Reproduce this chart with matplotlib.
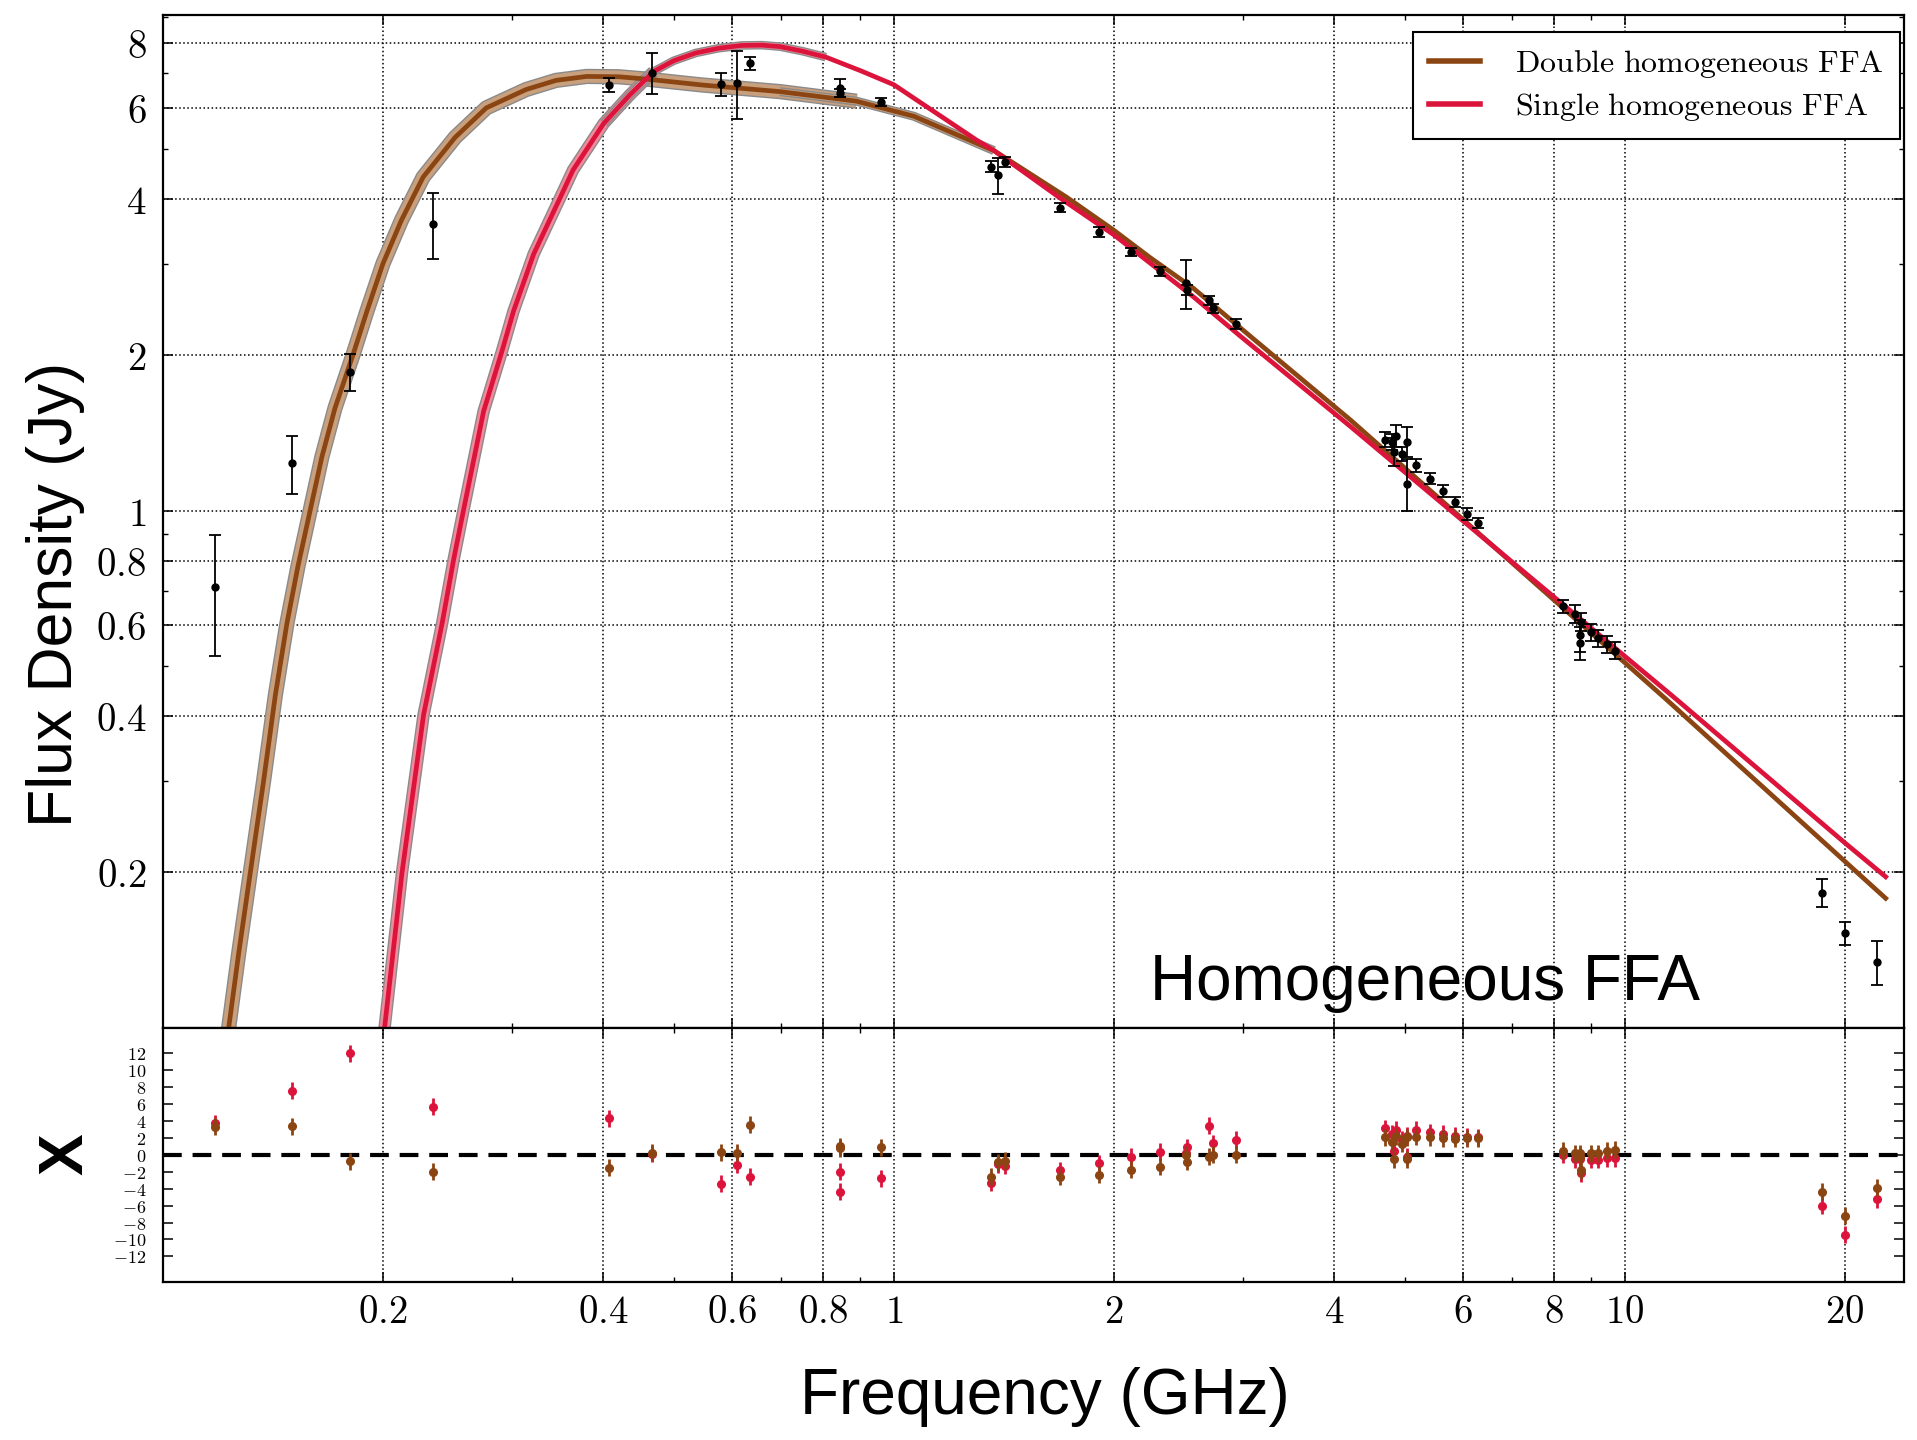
import numpy as np
import matplotlib
matplotlib.use('Agg')
import matplotlib.pyplot as plt
import matplotlib.patheffects as pe
from matplotlib.ticker import FixedLocator, FixedFormatter, NullFormatter

plt.rcParams['mathtext.fontset'] = 'cm'

#------------ model curves (GHz, Jy) ------------
dbl_freq = [0.1230, 0.1270, 0.1317, 0.1373, 0.1425, 0.1478, 0.1530, 0.1590, 0.1650,
            0.1720, 0.1820, 0.1900, 0.2000, 0.2120, 0.2270, 0.2510, 0.2770, 0.3140,
            0.3450, 0.3800, 0.4200, 0.4580, 0.5480, 0.6980, 0.8890, 1.0650, 1.3710,
            1.7240, 2.0000, 2.2430, 2.5680, 3.1000, 4.2100, 6.4000, 11.400, 20.000,
            22.750]
dbl_flux = [0.100, 0.140, 0.200, 0.300, 0.440, 0.606, 0.780, 1.000, 1.270,
            1.580, 2.000, 2.420, 3.000, 3.640, 4.410, 5.260, 6.000, 6.510,
            6.780, 6.900, 6.890, 6.820, 6.640, 6.450, 6.180, 5.780, 4.960,
            4.030, 3.480, 3.080, 2.690, 2.150, 1.498, 0.888, 0.4315, 0.2100,
            0.1781]

sgl_freq = [0.2010, 0.2124, 0.2273, 0.2410, 0.2500, 0.2577, 0.2746, 0.2909, 0.3018,
            0.3215, 0.3497, 0.3640, 0.4010, 0.4350, 0.4690, 0.5000, 0.5360, 0.5750,
            0.6190, 0.6600, 0.6980, 0.7500, 0.8070, 0.9000, 1.0000, 1.2970, 1.3710,
            1.6870, 2.0000, 2.5680, 2.9700, 4.2100, 6.4000, 11.770, 20.000, 22.750]
sgl_flux = [0.100, 0.200, 0.403, 0.606, 0.807, 1.000, 1.555, 2.030, 2.430,
            3.130, 4.030, 4.550, 5.600, 6.350, 7.050, 7.400, 7.660, 7.820,
            7.920, 7.930, 7.880, 7.720, 7.520, 7.080, 6.650, 5.200, 4.960,
            4.020, 3.410, 2.590, 2.180, 1.455, 0.886, 0.4315, 0.228, 0.196]

#------------ measurements ------------
obs_freq = [0.118, 0.150, 0.180, 0.2345, 0.408, 0.4675, 0.581, 0.611, 0.635,
            0.844, 0.844, 0.961, 1.360, 1.389, 1.418, 1.690, 1.910, 2.110, 2.310,
            2.510, 2.520, 2.700, 2.730, 2.940,
            4.70, 4.81, 4.83, 4.87, 4.95, 5.04, 5.03, 5.18, 5.41, 5.64, 5.85, 6.08, 6.30,
            8.23, 8.55, 8.68, 8.68, 8.72, 9.00, 9.20, 9.45, 9.70,
            18.62, 20.04, 22.14]
obs_flux = [0.710, 1.234, 1.854, 3.580, 6.640, 7.020, 6.670, 6.710, 7.310,
            6.560, 6.410, 6.160, 4.620, 4.450, 4.720, 3.850, 3.450, 3.160, 2.900,
            2.750, 2.670, 2.550, 2.460, 2.290,
            1.371, 1.357, 1.300, 1.396, 1.288, 1.357, 1.127, 1.223, 1.153, 1.090, 1.039, 0.985, 0.947,
            0.653, 0.632, 0.574, 0.555, 0.610, 0.582, 0.566, 0.551, 0.536,
            0.1827, 0.1526, 0.1340]
obs_err = [0.187, 0.160, 0.150, 0.520, 0.200, 0.650, 0.340, 1.000, 0.200,
           0.250, 0.120, 0.120, 0.120, 0.360, 0.100, 0.080, 0.080, 0.060, 0.060,
           0.300, 0.060, 0.050, 0.050, 0.050,
           0.045, 0.050, 0.080, 0.070, 0.040, 0.090, 0.130, 0.035, 0.030, 0.030, 0.025, 0.025, 0.022,
           0.020, 0.025, 0.040, 0.040, 0.025, 0.022, 0.022, 0.020, 0.020,
           0.011, 0.008, 0.013]

# normalised residuals
res_dbl = [3.35, 3.39, -0.75, -2.0, -1.5, 0.24, 0.31, 0.24, 3.58,
           1.02, 0.8, 0.9, -2.56, -0.9, -0.7, -2.6, -2.36, -1.77, -1.38,
           0.0, -0.79, -0.2, 0.0, 0.0,
           2.1, 1.5, -0.5, 2.2, 1.3, 2.1, -0.5, 2.17, 2.09, 1.97, 1.89, 1.97, 1.97,
           0.5, 0.2, 0.2, -0.2, -1.8, 0.2, 0.2, 0.5, 0.6,
           -4.33, -7.17, -3.86]
res_sgl = [3.74, 7.6, 12.0, 5.67, 4.33, 0.1, -3.39, -1.18, -2.6,
           -2.0, -4.37, -2.76, -3.27, -1.1, -1.26, -1.81, -0.98, -0.2, 0.35,
           0.2, 0.9, 3.43, 1.38, 1.77,
           3.15, 2.5, 0.4, 3.0, 1.8, 2.24, -0.2, 2.95, 2.68, 2.48, 2.28, 2.17, 2.09,
           0.0, -0.5, -0.2, -0.5, -2.2, -0.6, -0.6, -0.4, -0.4,
           -6.0, -9.45, -5.24]

xticks = [0.2, 0.4, 0.6, 0.8, 1, 2, 4, 6, 8, 10, 20]
xticklabels = ['0.2', '0.4', '0.6', '0.8', '1', '2', '4', '6', '8', '10', '20']
xminor = [0.3, 0.5, 0.7, 0.9, 3, 5, 7, 9]
yticks = [0.2, 0.4, 0.6, 0.8, 1, 2, 4, 6, 8]
yticklabels = ['0.2', '0.4', '0.6', '0.8', '1', '2', '4', '6', '8']
yminor = [0.3, 0.5, 0.7, 0.9, 3, 5, 7, 9]
rticks = list(range(-12, 13, 2))

BROWN = '#8B4513'
BROWN_BAND = '#C9A07E'
RED = '#DC143C'
RED_BAND = '#F28A9C'
EDGE = '#8a8a8a'

dbl_freq = np.array(dbl_freq); dbl_flux = np.array(dbl_flux)
sgl_freq = np.array(sgl_freq); sgl_flux = np.array(sgl_flux)

fig = plt.figure(figsize=(19.17, 14.4), dpi=100)
ax = fig.add_axes([0.085, 0.2861, 0.9082, 0.7035])
axr = fig.add_axes([0.085, 0.1099, 0.9082, 0.1762])

#------------ uncertainty bands (drawn as outlined strokes) ------------
def band(x, y, lw, fc, z=2):
    ax.plot(x, y, color=fc, lw=lw, solid_capstyle='butt', solid_joinstyle='round', zorder=z,
            path_effects=[pe.Stroke(linewidth=lw + 2.0, foreground=EDGE), pe.Normal()])

m = dbl_freq <= 0.889
band(dbl_freq[m], dbl_flux[m], 9.0, BROWN_BAND)
m = (dbl_freq >= 0.698) & (dbl_freq <= 1.371)
band(dbl_freq[m], dbl_flux[m], 4.5, BROWN_BAND)
m = sgl_freq <= 0.469
band(sgl_freq[m], sgl_flux[m], 7.0, RED_BAND, z=2.5)
m = (sgl_freq >= 0.401) & (sgl_freq <= 0.807)
band(sgl_freq[m], sgl_flux[m], 4.2, RED_BAND, z=2.5)

ax.plot(dbl_freq, dbl_flux, color=BROWN, lw=3.4, zorder=3, solid_joinstyle='round',
        label=r'$\mathrm{Double\ homogeneous\ FFA}$')
ax.plot(sgl_freq, sgl_flux, color=RED, lw=3.4, zorder=4, solid_joinstyle='round',
        label=r'$\mathrm{Single\ homogeneous\ FFA}$')

ax.errorbar(obs_freq, obs_flux, yerr=obs_err, fmt='o', color='k', ms=5,
            elinewidth=1.3, capsize=4.5, capthick=1.3, zorder=5)

ax.set_xscale('log')
ax.set_yscale('log')
ax.set_xlim(0.1, 24.1)
ax.set_ylim(0.1, 9.07)

leg = ax.legend(loc='upper right', bbox_to_anchor=(0.9975, 0.983), borderaxespad=0,
                fontsize=23, handlelength=1.6, handletextpad=1.1, borderpad=0.5,
                labelspacing=0.33, fancybox=False, edgecolor='k', framealpha=1)
leg.get_frame().set_linewidth(1.5)
for h in leg.get_lines():
    h.set_linewidth(4)

ax.text(0.567, 0.028, 'Homogeneous FFA', transform=ax.transAxes, fontsize=46,
        family='Liberation Sans', va='baseline', ha='left')

#------------ residuals ------------
axr.errorbar(obs_freq, res_sgl, yerr=1, fmt='o', color=RED, ms=5.5,
             elinewidth=2, capsize=0, zorder=3)
axr.errorbar(obs_freq, res_dbl, yerr=1, fmt='o', color=BROWN, ms=5.5,
             elinewidth=2, capsize=0, zorder=4)
axr.axhline(0, color='k', lw=3, dashes=(4.5, 2.6), zorder=2)
axr.set_xscale('log')
axr.set_xlim(0.1, 24.1)
axr.set_ylim(-15, 15)

#------------ ticks, grids, spines ------------
for a in (ax, axr):
    a.xaxis.set_major_locator(FixedLocator(xticks))
    a.xaxis.set_minor_locator(FixedLocator(xminor))
    a.xaxis.set_major_formatter(FixedFormatter(['$%s$' % t for t in xticklabels]))
    a.xaxis.set_minor_formatter(NullFormatter())
    a.tick_params(which='both', direction='in', top=True, right=True)
    a.tick_params(which='major', length=7, width=1.1)
    a.tick_params(which='minor', length=3.5, width=1.0)
    a.tick_params(axis='x', labelsize=28, pad=8)
    for s in a.spines.values():
        s.set_linewidth(1.6)

ax.yaxis.set_major_locator(FixedLocator(yticks))
ax.yaxis.set_minor_locator(FixedLocator(yminor))
ax.yaxis.set_major_formatter(FixedFormatter(['$%s$' % t for t in yticklabels]))
ax.yaxis.set_minor_formatter(NullFormatter())
ax.tick_params(axis='y', labelsize=28, pad=12)
ax.tick_params(axis='x', labelbottom=False)
ax.grid(True, which='major', ls=':', color='k', lw=1.1)

axr.yaxis.set_major_locator(FixedLocator(rticks))
axr.yaxis.set_major_formatter(FixedFormatter(['$%d$' % t for t in rticks]))
axr.tick_params(axis='y', labelsize=13, pad=12)
axr.grid(True, axis='x', which='major', ls=':', color='k', lw=1.1)

fig.text(0.0287, 0.5875, 'Flux Density (Jy)', rotation=90, ha='center', va='center',
         fontsize=45, family='Liberation Sans')
fig.text(0.545, 0.030, 'Frequency (GHz)', ha='center', va='center',
         fontsize=46, family='Liberation Sans')
fig.text(0.0345, 0.1986, 'X', rotation=90, ha='center', va='center',
         fontsize=45, fontweight='bold', family='Liberation Sans')

fig.savefig('out.png', dpi=100)
